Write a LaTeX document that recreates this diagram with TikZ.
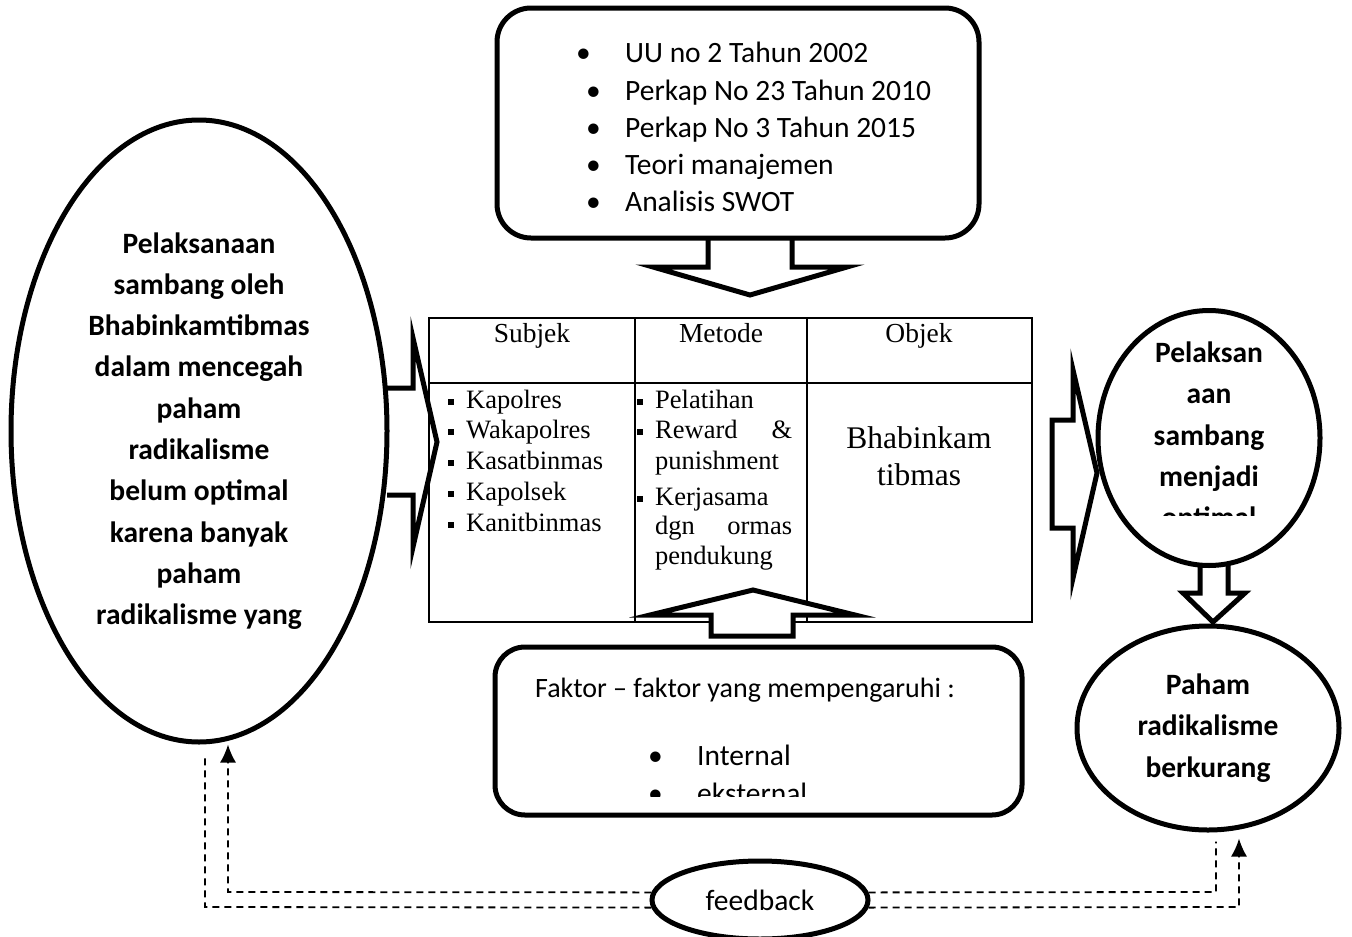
\documentclass[tikz,border=0pt]{standalone}
\usepackage{fontspec}
\setmainfont{Liberation Serif}
\newfontfamily\carlito{Carlito}
\usepackage{tikz}
\usetikzlibrary{arrows.meta, shapes, positioning}

\newcommand{\bul}[1]{\makebox[#1][l]{\textbullet}}
\newcommand{\sqbul}{\makebox[18pt][l]{\rule[3pt]{6pt}{6pt}}}

\begin{document}
\begin{tikzpicture}[x=1pt,y=-1pt,
  main node/.style={ellipse,draw,line width=5pt,inner sep=0pt,align=center,
    font=\carlito\bfseries\fontsize{29.5}{41.3}\selectfont},
  round box/.style={rectangle,draw,line width=5pt,rounded corners=34pt},
  item/.style={anchor=base west,inner sep=0pt,font=\carlito\fontsize{29.5}{35}\selectfont},
  cell/.style={anchor=base west,inner sep=0pt,font=\fontsize{26.5}{31}\selectfont},
  head/.style={anchor=base,inner sep=0pt,font=\fontsize{27.5}{31}\selectfont},
  blk/.style={draw,fill=white,line width=5pt},
  fbline/.style={line width=1.8pt,dash pattern=on 7pt off 5pt,-{Latex[length=18pt,width=16pt]}}]
  \useasboundingbox (0,0) rectangle (1352,937);

  % block arrows (under the shapes)
  \path[blk] (708,238) -- (708,267) -- (653,267) -- (750,295) -- (847,267) -- (792,267) -- (792,238);
  \path[blk] (387,388) -- (413,388) -- (413,338) -- (437,442) -- (413,547) -- (413,495) -- (387,495);
  \path[blk] (1052,420) -- (1073,420) -- (1073,370) -- (1097,473) -- (1073,578) -- (1073,528) -- (1052,528) -- cycle;
  \path[blk] (1200,565) -- (1200,593) -- (1183,593) -- (1213,622) -- (1245,593) -- (1228,593) -- (1228,565);

  \node[main node, minimum width=376pt, minimum height=622pt] (sit) at (199,431)
    {Pelaksanaan\\sambang oleh\\Bhabinkamtibmas\\dalam mencegah\\paham\\radikalisme\\belum optimal\\karena banyak\\paham\\radikalisme yang};

  \node[round box, minimum width=482pt, minimum height=230pt] (law) at (738,123) {};
  \node[item] (l1) at (576,62) {\bul{49pt}UU no 2 Tahun 2002};
  \node[item] (l2) at (586,100) {\bul{39pt}Perkap No 23 Tahun 2010};
  \node[item] (l3) at (586,137) {\bul{39pt}Perkap No 3 Tahun 2015};
  \node[item] (l4) at (586,174) {\bul{39pt}Teori manajemen};
  \node[item] (l5) at (586,211) {\bul{39pt}Analisis SWOT};

  % table
  \node[draw, line width=1.8pt, inner sep=0pt, minimum width=603pt, minimum height=304pt] (tab) at (730.5,470) {};
  \draw[line width=1.8pt] (429,383) -- (1032,383) (635,318) -- (635,622) (807,318) -- (807,622);
  \node[head] (hs) at (532,342) {Subjek};
  \node[head] (hm) at (721,342) {Metode};
  \node[head] (ho) at (919,342) {Objek};
  \node[cell] (s1) at (448,408) {\sqbul Kapolres};
  \node[cell] (s2) at (448,438) {\sqbul Wakapolres};
  \node[cell] (s3) at (448,469) {\sqbul Kasatbinmas};
  \node[cell] (s4) at (448,500) {\sqbul Kapolsek};
  \node[cell] (s5) at (448,531) {\sqbul Kanitbinmas};
  \node[cell] (m1) at (637,408) {\sqbul Pelatihan};
  \node[cell] (m2) at (637,438) {\sqbul\hbox to 137pt{Reward\hfill\&}};
  \node[cell] (m3) at (655,469) {punishment};
  \node[cell] (m4) at (637,505) {\sqbul Kerjasama};
  \node[cell] (m5) at (655,534) {\hbox to 137pt{dgn\hfill ormas}};
  \node[cell] (m6) at (655,564) {pendukung};
  \node[head, font=\fontsize{31.5}{37}\selectfont] (o1) at (919,448) {Bhabinkam};
  \node[head, font=\fontsize{31.5}{37}\selectfont] (o2) at (919,485) {tibmas};

  \path[blk] (711,636) -- (711,615) -- (650,615) -- (753,590) -- (855,615) -- (793,615) -- (793,636) -- cycle;

  % factors
  \node[round box, rounded corners=30pt, minimum width=527pt, minimum height=168pt] (fac) at (758.5,731) {};
  \node[item, anchor=base, font=\carlito\fontsize{28}{34}\selectfont] (f0) at (745,697) {Faktor – faktor yang mempengaruhi :};
  \node[item] (f1) at (648,765) {\bul{49pt}Internal};
  \begin{scope}
    \clip (500,650) rectangle (1015,796);
    \node[item] (f2) at (648,803) {\bul{49pt}eksternal};
  \end{scope}

  % results
  \node[main node, minimum width=222pt, minimum height=255pt] (opt) at (1209,438) {};
  \begin{scope}
    \clip (1105,320) rectangle (1315,515);
    \node[main node, draw=none] (optx) at (1209,437) {Pelaksan\\aan\\sambang\\menjadi\\optimal};
  \end{scope}
  \node[main node, minimum width=262pt, minimum height=204pt] (less) at (1208,728) {Paham\\radikalisme\\berkurang};

  \node[main node, font=\carlito\fontsize{29.5}{35}\selectfont, minimum width=216pt, minimum height=78pt] (fb) at (760,900) {feedback};

  \coordinate (cl1) at (228,892);
  \coordinate (cl2) at (205,907);
  \coordinate (cr1) at (1216,892);
  \coordinate (cr2) at (1239,907);
  \draw[fbline] (fb.176) -- (cl1) -- (cl1 |- sit.south);
  \draw[fbline,-,shorten >=11pt] (fb.184) -- (cl2) -- (cl2 |- sit.south);
  \draw[fbline,-,shorten >=9pt] (fb.4) -- (cr1) -- (cr1 |- less.south);
  \draw[fbline,shorten >=6pt] (fb.-4) -- (cr2) -- (cr2 |- less.south);
\end{tikzpicture}
\end{document}
